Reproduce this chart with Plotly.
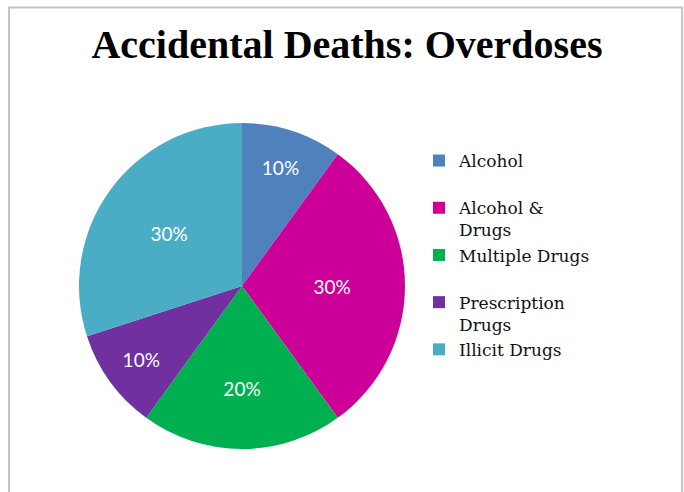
import plotly.graph_objects as go

# ---- data ----
categories = ["Alcohol", "Alcohol & Drugs", "Multiple Drugs", "Prescription Drugs", "Illicit Drugs"]
legend_labels = ["Alcohol<br> ", "Alcohol &<br>Drugs", "Multiple Drugs<br> ", "Prescription<br>Drugs", "Illicit Drugs<br> "]
shares = [10, 30, 20, 10, 30]
colors = ["#4F81BD", "#CC0099", "#00B050", "#7030A0", "#4BACC6"]
title_text = "Accidental Deaths: Overdoses"

W, H = 684, 492


def px_x(x):
    return x / W


def px_y(y):
    # y measured from top of the page
    return 1 - y / H


CX, CY, R = 242, 286, 163

fig = go.Figure(
    go.Pie(
        labels=legend_labels,
        values=shares,
        customdata=categories,
        sort=False,
        direction="clockwise",
        rotation=0,
        marker=dict(colors=colors, line=dict(width=0)),
        textinfo="percent",
        texttemplate="%{percent:.0%}",
        textposition="inside",
        insidetextorientation="horizontal",
        insidetextfont=dict(family="Lato", size=19, color="white"),
        hovertemplate="%{customdata}: %{percent}<extra></extra>",
        domain=dict(x=[px_x(CX - R), px_x(CX + R)], y=[px_y(CY + R), px_y(CY - R)]),
    )
)

fig.update_layout(
    width=W,
    height=H,
    margin=dict(l=0, r=0, t=0, b=0),
    paper_bgcolor="white",
    plot_bgcolor="white",
    title=dict(
        text=title_text,
        x=px_x(347),
        xanchor="center",
        y=px_y(44),
        yanchor="middle",
        font=dict(family="Liberation Serif", size=40, color="black", weight="bold"),
    ),
    showlegend=True,
    legend=dict(
        x=px_x(419),
        xanchor="left",
        y=px_y(143),
        yanchor="top",
        valign="top",
        font=dict(family="DejaVu Serif", size=17, color="#111111"),
        itemclick=False,
        bgcolor="rgba(0,0,0,0)",
    ),
    shapes=[
        dict(
            type="rect",
            xref="paper",
            yref="paper",
            x0=px_x(9),
            x1=px_x(682),
            y0=-0.2,
            y1=px_y(7.5),
            line=dict(color="#C4C4C4", width=2),
            fillcolor="rgba(0,0,0,0)",
            layer="below",
        )
    ],
)

fig.write_html(
    "out.html",
    config={"displayModeBar": False},
    post_script="document.body.style.margin='0px';document.body.style.overflow='hidden';",
)
